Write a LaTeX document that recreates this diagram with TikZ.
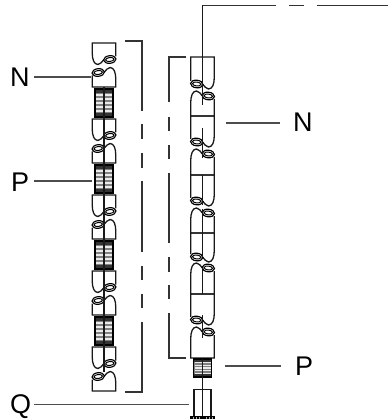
\documentclass[tikz,border=0pt]{standalone}
\usepackage{fontspec}
\setmainfont{Liberation Sans}
\tikzset{
  ln/.style={line width=1.3pt,black!90,line cap=butt,line join=miter},
  leader/.style={line width=1.3pt,black!70},
  lab/.style={inner sep=0pt,anchor=base west,font=\fontsize{27}{27}\selectfont,text=black},
  barline/.style={line width=1.4pt,black!80}
}
% cx, eye y, xscale, yscale, length to flat end
\newcommand\eyelink[5]{%
  \begin{scope}[shift={(#1,#2)},xscale=#3,yscale=#4]
    \draw[ln] (11.8,-3) -- (11.8,-#5) -- (-11.8,-#5) -- (-11.8,-7)
      .. controls (-11.8,0) and (-10,5) .. (-6,5)
      .. controls (-3,5) and (-2.5,2) .. (0,0);
    \fill[white] (5.8,0) ellipse [x radius=6.2,y radius=3.8,rotate=6];
    \draw[line width=1.15pt,black] (5.8,0) ellipse [x radius=6.2,y radius=3.8,rotate=6];
    \draw[line width=1pt,black] (5.8,0) ellipse [x radius=4.2,y radius=2,rotate=6];
  \end{scope}}
\newcommand\coil[3]{% cx, top, bottom
  \pgfmathsetmacro\ctop{#2}\pgfmathsetmacro\cbot{#3}
  \fill[black!50] (#1-9,\ctop) rectangle (#1+9,\cbot);
  \foreach \k in {1,...,5}{
    \pgfmathsetmacro\cy{\ctop+(\cbot-\ctop)*(\k+.5)/7}
    \draw[line width=1.1pt,white!92!black] (#1-8,\cy) -- (#1+8,\cy);
  }
  \pgfmathsetmacro\cband{(\cbot-\ctop)*.14}
  \fill[black!80] (#1-9,\ctop) rectangle (#1+9,\ctop+\cband);
  \fill[black!80] (#1-9,\cbot-\cband) rectangle (#1+9,\cbot);
  \draw[line width=1.1pt,black] (#1-9,\ctop) rectangle (#1+9,\cbot);}
\begin{document}
\begin{tikzpicture}[x=1pt,y=-1pt]
\useasboundingbox (0,0) rectangle (388,419);
% left stack
\foreach \t in {43,119,195,271,347}{
  \eyelink{104}{\t+16.5}{1}{1}{16.5}
  \eyelink{104}{\t+29.5}{-1}{-1}{14.5}
}
\foreach \t in {43,119,195,271}{ \coil{104}{\t+46}{\t+74} }
\draw[ln] (104,87) -- (104,372);
% left bracket
\coordinate (lbt) at (125,41); \coordinate (lbb) at (125,392);
\draw[barline] (lbt) -- (142,41) -- (142,111);
\draw[barline] (142,124) -- (142,139);
\draw[barline] (142,153) -- (142,168);
\draw[barline] (142,181) -- (142,252);
\draw[barline] (142,266) -- (142,280);
\draw[barline] (142,294) -- (142,308);
\draw[barline] (142,322) -- (142,392) -- (lbb);
% right stack
\foreach \e/\l in {84/27,142/26,201/26,257/24,320/26}{ \eyelink{202.5}{\e}{-1}{1}{\l} }
\foreach \e/\l in {96/20,154/21,213/20,268/26,332/26}{ \eyelink{202.5}{\e}{1}{-1}{\l} }
\coil{202.5}{359}{377}
\draw[ln] (202.5,5.5) -- (202.5,105);
\draw[ln] (202.5,128) -- (202.5,158);
\draw[ln] (202.5,175) -- (202.5,205);
\draw[ln] (202.5,209) -- (202.5,257);
\draw[ln] (202.5,268) -- (202.5,294);
\draw[ln] (202.5,315) -- (202.5,338);
\draw[ln] (202.5,359) -- (202.5,417);
% top line
\draw[barline] (202.5,5.5) -- (276,5.5);
\draw[barline] (289,5.5) -- (304,5.5);
\draw[barline] (317,5.5) -- (388,5.5);
% right bracket
\draw[barline] (186,57) -- (169,57) -- (169,102);
\draw[barline] (169,117) -- (169,131);
\draw[barline] (169,145) -- (169,159);
\draw[barline] (169,173) -- (169,243);
\draw[barline] (169,257) -- (169,272);
\draw[barline] (169,285) -- (169,299);
\draw[barline] (169,313) -- (169,358) -- (186,358);
% Q part
\draw[ln] (194,417) -- (194,389.5) -- (211,389.5) -- (211,417);
\fill[black] (190,416) rectangle (215,419);
\foreach \q in {193,196,199,206,209,212}{ \fill[white!70!black] (\q,417) rectangle (\q+.8,419); }
% labels and leaders
\node[lab] (n1) at (10,87) {N};
\node[lab] (p1) at (11,192) {P};
\node[lab] (q1) at (10,413) {Q};
\node[lab] (n2) at (293,132) {N};
\node[lab] (p2) at (295,375) {P};
\coordinate (a1) at (34,77);  \coordinate (b1) at (91,77);
\coordinate (a2) at (34,181); \coordinate (b2) at (92,181);
\coordinate (a3) at (34,404.5); \coordinate (b3) at (189,404.5);
\coordinate (a4) at (226,123); \coordinate (b4) at (280,123);
\coordinate (a5) at (225,366); \coordinate (b5) at (281,366);
\draw[leader] (a1) -- (b1);
\draw[leader] (a2) -- (b2);
\draw[leader] (a3) -- (b3);
\draw[leader] (a4) -- (b4);
\draw[leader] (a5) -- (b5);
\end{tikzpicture}
\end{document}
